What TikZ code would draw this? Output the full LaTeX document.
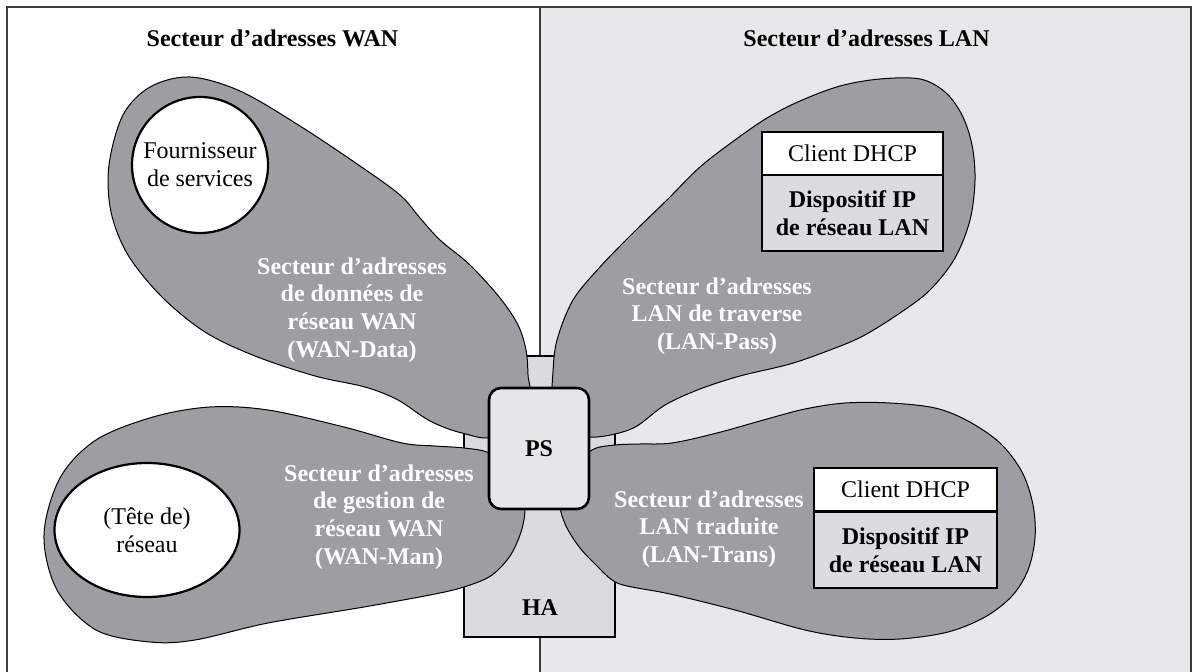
\documentclass[tikz,border=0pt]{standalone}
\usepackage{fontspec}
\setmainfont{Liberation Serif}
\usetikzlibrary{shapes.geometric}

\definecolor{petalgray}{RGB}{157,158,162}
\definecolor{lanbg}{RGB}{231,232,234}
\definecolor{hafill}{RGB}{218,219,222}
\definecolor{psfill}{RGB}{229,230,232}
\definecolor{devfill}{RGB}{219,220,223}
\definecolor{framegray}{RGB}{60,60,60}

\begin{document}
\begin{tikzpicture}[x=0.5pt,y=-0.5pt,
  txt/.style={font=\fontsize{12}{13.85}\selectfont, inner sep=0pt, align=center},
  title/.style={txt, font=\fontsize{12}{13.85}\selectfont\bfseries},
  zonelabel/.style={txt, font=\fontsize{12}{13.85}\selectfont\bfseries, text=white},
  frameline/.style={draw=framegray, line width=0.75pt},
  petal/.style={fill=petalgray, draw=black, line width=0.5pt},
  habox/.style={draw=black, fill=hafill, line width=0.8pt, minimum width=75.5pt, minimum height=140.5pt, inner sep=0pt},
  psbox/.style={draw=black, fill=psfill, line width=1.3pt, rounded corners=6pt, minimum width=50pt, minimum height=60.5pt, txt, font=\fontsize{12}{13.85}\selectfont\bfseries},
  clientbox/.style={draw=black, fill=white, line width=1pt, txt, minimum height=21.5pt},
  devbox/.style={draw=black, fill=devfill, line width=1pt, txt, font=\fontsize{12}{13.85}\selectfont\bfseries, minimum height=38pt},
  hostcircle/.style={draw=black, fill=white, line width=1.1pt, txt}
]
\useasboundingbox (0,0) rectangle (1197,672);

% background of the LAN half and the frame
\fill[lanbg] (540,7) rectangle (1191,672);
\draw[frameline] (7,672) -- (7,7) -- (1191,7) -- (1191,672);
\draw[frameline] (540,7) -- (540,672);

% section titles
\node[title, anchor=base] (wantitle) at (272.5,47) {Secteur d’adresses WAN};
\node[title, anchor=base] (lantitle) at (866.5,47) {Secteur d’adresses LAN};

% HA block behind the petals
\node[habox] (ha) at (539.5,496.5) {};

% WAN-Data petal
\draw[petal] plot[smooth cycle, tension=0.55] coordinates {
  (528,400) (528,375) (526,350) (518,325) (500,298) (470,265) (440,240)
  (420,218) (400,195) (360,166) (300,126) (240,91) (190,77) (150,87)
  (123,115) (109,165) (111,212) (128,255) (162,297) (205,332) (255,356)
  (315,376) (365,387) (398,400) (430,421) (462,433) (495,436)};

% LAN-Pass petal
\draw[petal] plot[smooth cycle, tension=0.55] coordinates {
  (553,400) (553,372) (557,340) (573,300) (600,267) (633,233) (667,200)
  (700,167) (735,140) (767,118) (800,101) (840,86) (880,79) (920,79)
  (945,92) (962,115) (972,145) (975,180) (970,220) (955,258) (930,290)
  (900,313) (863,336) (830,350) (790,364) (740,376) (700,389) (665,405)
  (637,426) (615,434) (590,437) (565,430)};

% LAN-Trans petal
\draw[petal] plot[smooth cycle, tension=0.55] coordinates {
  (575,470) (592,450) (615,445) (640,444) (672,443) (717,433) (767,419)
  (805,409) (845,403) (890,403) (935,408) (968,421) (1000,443) (1022,472)
  (1033,505) (1035,538) (1028,570) (1012,596) (985,617) (948,632) (900,639)
  (855,638) (805,630) (735,610) (670,594) (627,586) (612,580) (598,567)
  (580,548) (566,526) (560,505) (565,480)};

% WAN-Man petal
\draw[petal] plot[smooth cycle, tension=0.55] coordinates {
  (505,470) (489,453) (464,448) (435,446) (402,443) (344,427) (268,410)
  (210,407) (153,417) (96,440) (60,478) (44,535) (57,590) (96,630)
  (150,642) (195,640) (268,623) (364,607) (440,593) (470,585) (492,575)
  (510,556) (521,532) (525,510) (522,490)};

% central PS box and HA caption
\node[psbox] (ps) at (539,448.5) {PS};
\node[title] (halabel) at (540,608) {HA};

% hosts on the WAN side
\node[hostcircle, circle, minimum size=68pt] (isp) at (200,165) {Fournisseur\\de services};
\node[hostcircle, ellipse, minimum width=92.5pt, minimum height=67pt] (head) at (147,530) {(Tête de)\\réseau};

% LAN devices
\node[clientbox, minimum width=90.5pt] (client1) at (852.5,153.5) {Client DHCP};
\node[devbox, minimum width=90.5pt] (dev1) at (852.5,213) {Dispositif IP\\de réseau LAN};
\node[clientbox, minimum width=91.5pt] (client2) at (905.5,489.5) {Client DHCP};
\node[devbox, minimum width=91.5pt] (dev2) at (905.5,550) {Dispositif IP\\de réseau LAN};

% petal captions
\node[zonelabel] (wandata) at (352,310) {Secteur d’adresses\\de données de\\réseau WAN\\(WAN-Data)};
\node[zonelabel] (wanman) at (379,517) {Secteur d’adresses\\de gestion de\\réseau WAN\\(WAN-Man)};
\node[zonelabel] (lanpass) at (717,316) {Secteur d’adresses\\LAN de traverse\\(LAN-Pass)};
\node[zonelabel] (lantrans) at (709,529) {Secteur d’adresses\\LAN traduite\\(LAN-Trans)};
\end{tikzpicture}
\end{document}
